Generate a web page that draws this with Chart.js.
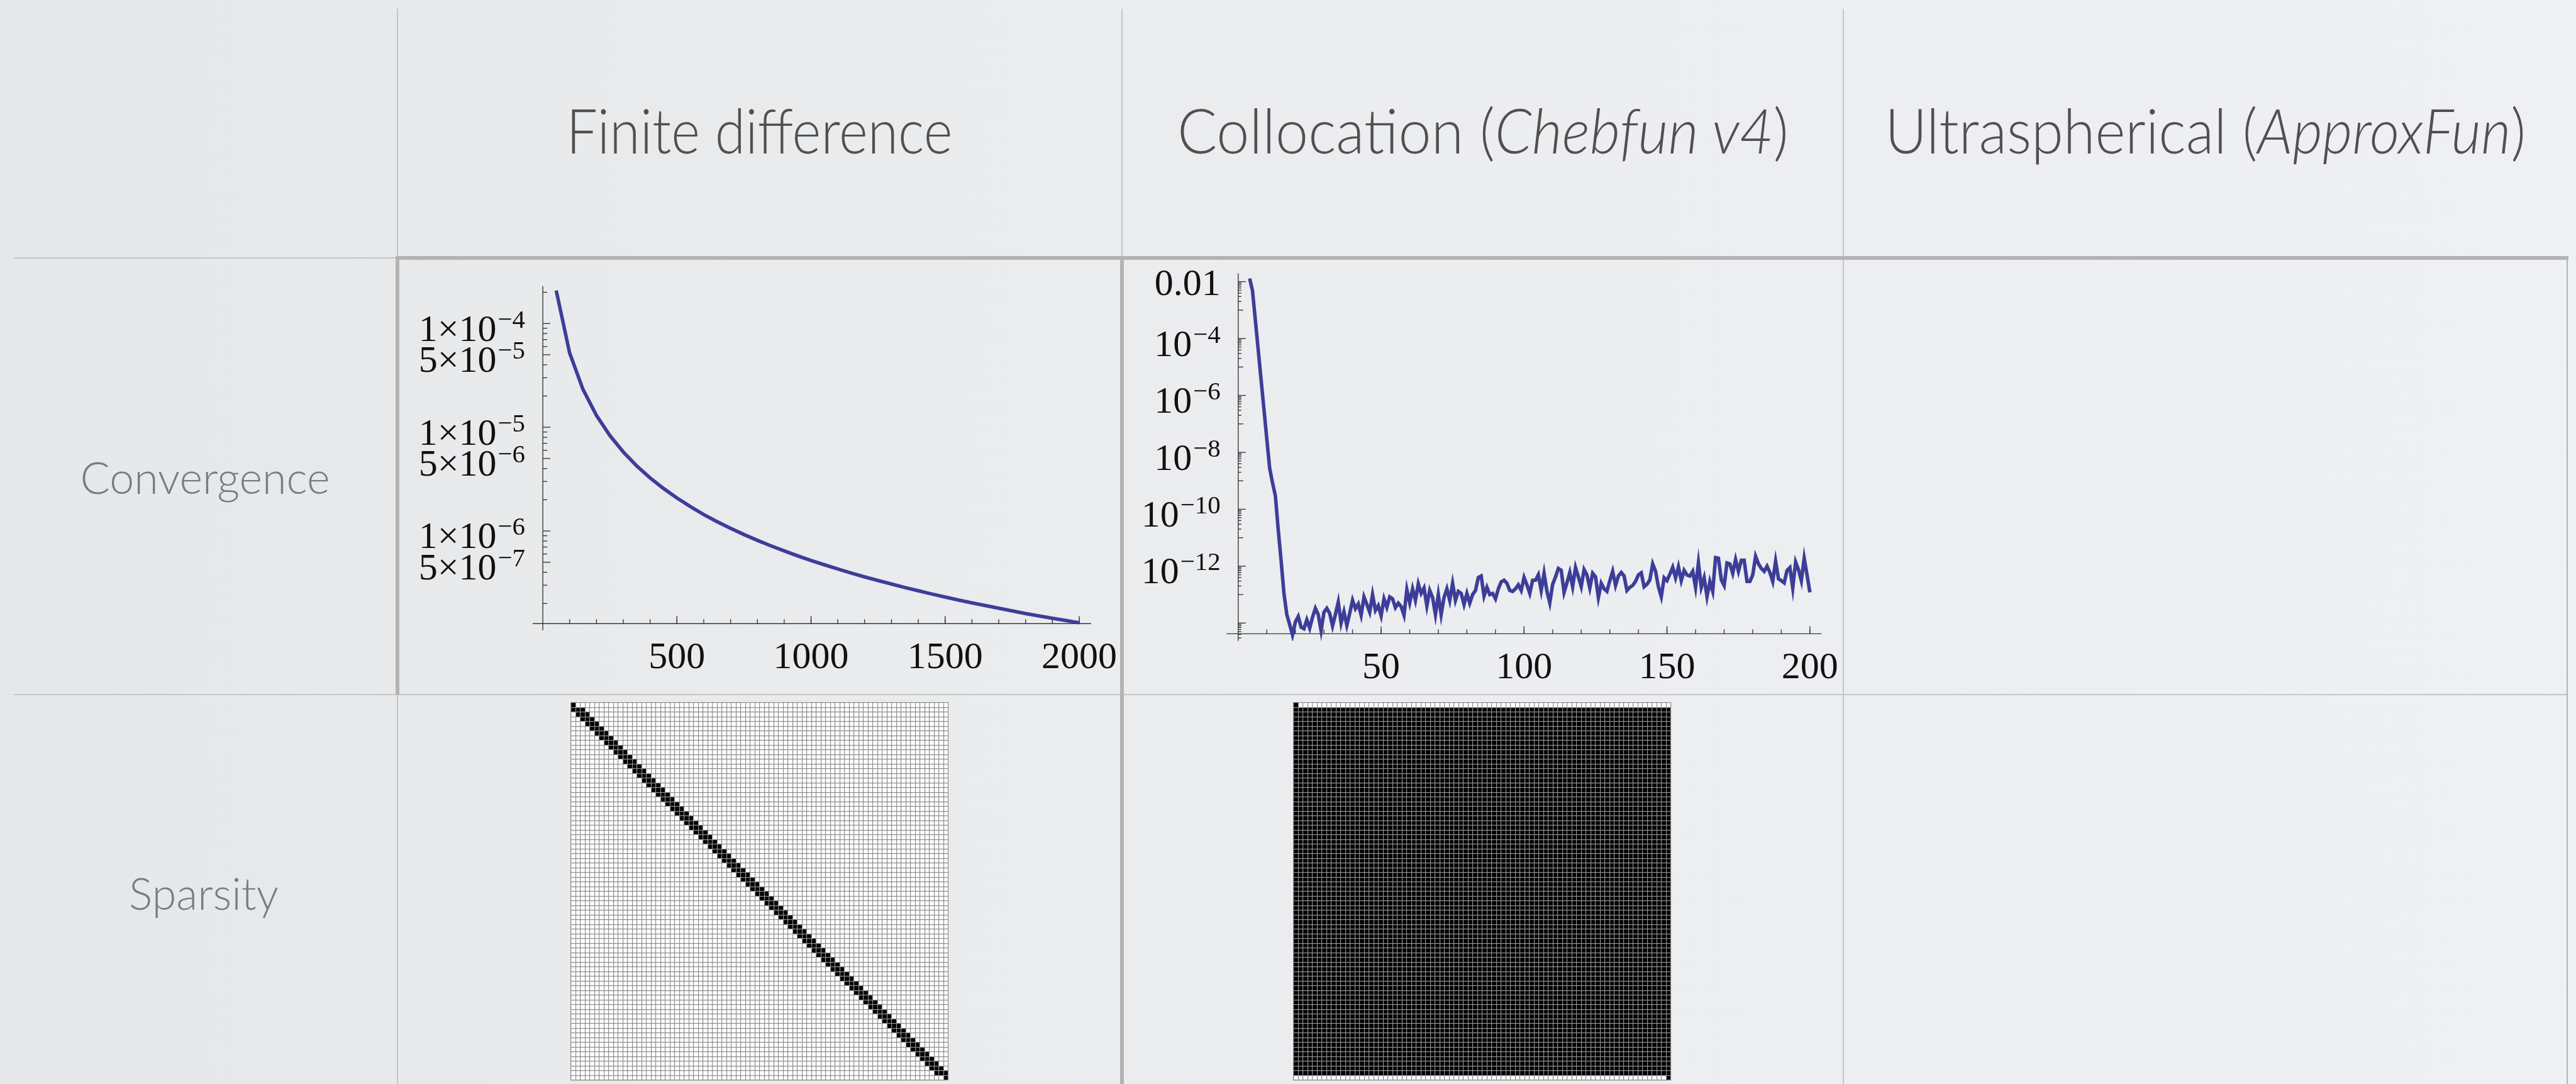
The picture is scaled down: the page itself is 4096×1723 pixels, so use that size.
<!DOCTYPE html>
<html lang="en">
<head>
<meta charset="utf-8">
<title>Discretisations: convergence and sparsity</title>
<script src="https://cdn.jsdelivr.net/npm/chart.js@4.4.1/dist/chart.umd.min.js"></script>
<style>
  html, body { margin: 0; padding: 0; }
  body {
    width: 4096px; height: 1723px; overflow: hidden; position: relative;
    background: linear-gradient(90deg, #e5e7e9 0%, #eaecee 40%, #eef0f3 100%);
  }
  .rule { position: absolute; background: #c3c5c7; }
  .rule.heavy { background: #b3b3b3; }
  .head, .rowlab {
    position: absolute; white-space: nowrap; transform-origin: 50% 50%;
    font-family: Lato, "Open Sans", "Noto Sans", sans-serif; font-weight: 300;
  }
  .head { top: 157px; font-size: 98px; line-height: 98px; color: #505050; }
  .rowlab { font-size: 70px; line-height: 70px; color: #72807f; }
  .panel { position: absolute; display: block; }
</style>
</head>
<body>

<!-- table rules -->
<div class="rule" style="left:631px;top:14px;width:2px;height:396px"></div>
<div class="rule" style="left:1783px;top:14px;width:2px;height:396px"></div>
<div class="rule" style="left:2930px;top:14px;width:2px;height:1709px"></div>
<div class="rule" style="left:22px;top:409px;width:610px;height:2px"></div>
<div class="rule" style="left:22px;top:1103px;width:4060px;height:2px"></div>
<div class="rule" style="left:631px;top:1104px;width:2px;height:619px"></div>
<div class="rule heavy" style="left:4081px;top:407px;width:2px;height:1316px"></div>
<div class="rule heavy" style="left:629px;top:407px;width:3455px;height:6px"></div>
<div class="rule heavy" style="left:629px;top:407px;width:6px;height:697px"></div>
<div class="rule heavy" style="left:1781px;top:407px;width:6px;height:1316px"></div>

<!-- column and row headings -->
<div class="head" data-center="1208" data-width="614">Finite difference</div>
<div class="head" data-center="2357.5" data-width="972">Collocation (<i>Chebfun v4</i>)</div>
<div class="head" data-center="3506.5" data-width="1019">Ultraspherical (<i>ApproxFun</i>)</div>
<div class="rowlab" data-center="326" style="top:723px">Convergence</div>
<div class="rowlab" data-center="324" style="top:1384px">Sparsity</div>

<canvas id="fdConv" class="panel" width="1152" height="694" style="left:632px;top:410px"></canvas>
<canvas id="colConv" class="panel" width="1147" height="694" style="left:1784px;top:410px"></canvas>
<canvas id="fdSparse" class="panel" width="602" height="602" style="left:907px;top:1116px"></canvas>
<canvas id="colSparse" class="panel" width="602" height="602" style="left:2056px;top:1116px"></canvas>

<script>
// ---- finite difference: error against number of grid points ----
const fdN = [50, 100, 150, 200, 250, 300, 350, 400, 450, 500,
             550, 600, 650, 700, 750, 800, 850, 900, 950, 1000,
             1050, 1100, 1150, 1200, 1250, 1300, 1350, 1400, 1450, 1500,
             1550, 1600, 1650, 1700, 1750, 1800, 1850, 1900, 1950, 2000];
const fdError = [2.08e-4, 5.2e-5, 2.31e-5, 1.3e-5, 8.32e-6, 5.78e-6, 4.24e-6, 3.25e-6, 2.57e-6, 2.08e-6,
                 1.72e-6, 1.44e-6, 1.23e-6, 1.06e-6, 9.24e-7, 8.13e-7, 7.2e-7, 6.42e-7, 5.76e-7, 5.2e-7,
                 4.72e-7, 4.3e-7, 3.93e-7, 3.61e-7, 3.33e-7, 3.08e-7, 2.85e-7, 2.65e-7, 2.47e-7, 2.31e-7,
                 2.16e-7, 2.03e-7, 1.91e-7, 1.8e-7, 1.7e-7, 1.6e-7, 1.52e-7, 1.44e-7, 1.37e-7, 1.3e-7];

// ---- collocation: error against discretisation size, n = 4 … 200 ----
const collocFirstN = 4;
const collocError = [
  1.3e-2, 4.8e-3, 4.4e-4, 4.0e-5, 3.6e-6, 3.3e-7, 3.0e-8, 2.8e-9, 8.5e-10, 3.0e-10,
  1.9e-11, 1.6e-12, 1.1e-13, 2.0e-14, 8.9e-15, 3.8e-15, 1.1e-14, 1.7e-14, 7.2e-15, 6.3e-15,
  1.3e-14, 6.6e-15, 1.6e-14, 3.3e-14, 2.0e-14, 5.4e-15, 2.4e-14, 3.3e-14, 2.2e-14, 7.9e-15,
  2.0e-14, 5.5e-14, 1.0e-14, 2.5e-14, 8.3e-15, 2.2e-14, 6.3e-14, 3.2e-14, 4.7e-14, 1.9e-14,
  8.3e-14, 4.5e-14, 2.4e-14, 1.0e-13, 2.8e-14, 4.1e-14, 1.8e-14, 7.1e-14, 3.6e-14, 8.3e-14,
  7.1e-14, 3.5e-14, 5.0e-14, 3.8e-14, 1.9e-14, 1.5e-13, 5.2e-14, 1.6e-13, 6.3e-14, 2.4e-13,
  1.1e-13, 1.7e-13, 4.0e-14, 1.4e-13, 7.9e-14, 2.0e-14, 1.0e-13, 2.0e-14, 7.9e-14, 1.6e-13,
  6.3e-14, 2.5e-13, 6.3e-14, 1.3e-13, 1.1e-13, 4.5e-14, 1.1e-13, 5.0e-14, 1.0e-13, 1.4e-13,
  4.0e-13, 4.5e-13, 8.9e-14, 1.8e-13, 1.0e-13, 1.1e-13, 7.1e-14, 1.6e-13, 2.8e-13, 3.2e-13,
  2.5e-13, 1.4e-13, 1.3e-13, 1.6e-13, 2.2e-13, 1.4e-13, 4.0e-13, 2.2e-13, 1.1e-13, 3.2e-13,
  3.2e-13, 5.0e-13, 1.4e-13, 5.6e-13, 1.3e-13, 5.1e-14, 2.3e-13, 4.2e-13, 8.3e-13, 7.1e-13,
  1.2e-13, 2.6e-13, 6.0e-13, 1.9e-13, 8.9e-13, 4.2e-13, 1.9e-13, 7.6e-13, 4.9e-13, 1.7e-13,
  5.6e-13, 4.2e-13, 7.9e-14, 2.5e-13, 1.6e-13, 1.3e-13, 3.1e-13, 6.6e-13, 2.1e-13, 4.5e-13,
  6.0e-13, 4.5e-13, 1.4e-13, 1.8e-13, 2.1e-13, 2.9e-13, 4.9e-13, 5.8e-13, 1.9e-13, 2.3e-13,
  3.3e-13, 1.2e-12, 6.6e-13, 1.9e-13, 8.5e-14, 3.9e-13, 3.1e-13, 5.2e-13, 9.1e-13, 3.9e-13,
  9.5e-13, 3.1e-13, 7.1e-13, 4.9e-13, 4.5e-13, 6.6e-13, 1.8e-13, 1.3e-12, 1.8e-13, 3.9e-13,
  8.5e-14, 2.9e-13, 1.3e-13, 2.0e-12, 1.9e-12, 3.3e-13, 2.1e-13, 1.3e-12, 1.2e-12, 5.6e-13,
  1.7e-12, 6.6e-13, 1.6e-12, 1.6e-12, 2.9e-13, 2.9e-13, 4.9e-13, 2.2e-12, 1.2e-12, 8.3e-13,
  6.6e-13, 1.0e-12, 6.0e-13, 2.9e-13, 1.5e-12, 3.6e-13, 3.1e-13, 2.6e-13, 7.1e-13, 8.9e-13,
  1.7e-13, 1.4e-12, 7.6e-13, 3.1e-13, 1.9e-12, 4.9e-13, 1.2e-13
];

// ---- tick marks and labels ----
const fdXTicks = [500, 1000, 1500, 2000];
const fdXLabels = ['500', '1000', '1500', '2000'];
const fdYTicks = [1e-4, 5e-5, 1e-5, 5e-6, 1e-6, 5e-7];
const fdYLabels = [['1×10', '−4'], ['5×10', '−5'], ['1×10', '−5'], ['5×10', '−6'], ['1×10', '−6'], ['5×10', '−7']];
const fdYMinorMultiples = [2, 3, 4, 6, 7, 8, 9];

const collocXTicks = [50, 100, 150, 200];
const collocXLabels = ['50', '100', '150', '200'];
const collocYTicks = [1e-2, 1e-4, 1e-6, 1e-8, 1e-10, 1e-12, 1e-14];
const collocYLabels = [['0.01', ''], ['10', '−4'], ['10', '−6'], ['10', '−8'], ['10', '−10'], ['10', '−12'], null];

// ---- sparsity patterns (80 × 80) ----
const sparsityN = 80;
const fdStencilOffsets = [-1, 0, 1];   // interior rows of the second-difference matrix

const CURVE = '#3d3d99';
const AXIS = '#3a3a3a';
const LABEL_FONT = '60px "Liberation Serif", "Times New Roman", serif';
const SUP_FONT = '41px "Liberation Serif", "Times New Roman", serif';

Chart.defaults.animation = false;

function range(start, stop, step) {
  const out = [];
  for (let v = start; v <= stop + 1e-9; v += step) out.push(v);
  return out;
}

// Axes drawn through the data, with inward tick marks and superscripted labels.
function crossingAxes(cfg) {
  return {
    id: 'crossingAxes',
    beforeDatasetsDraw(chart) {
      const { ctx, chartArea: ca } = chart;
      const xs = chart.scales.x, ys = chart.scales.y;
      const ax = xs.getPixelForValue(cfg.yAxisAt);
      const ay = ys.getPixelForValue(cfg.xAxisAt);
      const inY = v => v >= ys.min && v <= ys.max;
      const seg = (x1, y1, x2, y2) => { ctx.beginPath(); ctx.moveTo(x1, y1); ctx.lineTo(x2, y2); ctx.stroke(); };
      ctx.save();
      ctx.strokeStyle = AXIS;
      ctx.lineWidth = 1.4;
      seg(ca.left, ay, ca.right, ay);
      seg(ax, ca.top, ax, ca.bottom);
      cfg.xMinor.forEach(v => { const p = xs.getPixelForValue(v); seg(p, ay, p, ay - 7); });
      cfg.xMajor.forEach(v => { const p = xs.getPixelForValue(v); seg(p, ay, p, ay - 12); });
      cfg.yMinor.filter(inY).forEach(v => { const p = ys.getPixelForValue(v); seg(ax, p, ax + cfg.yMinorLen, p); });
      (cfg.yMedium || []).filter(inY).forEach(v => { const p = ys.getPixelForValue(v); seg(ax, p, ax + 8, p); });
      cfg.yMajor.filter(inY).forEach(v => { const p = ys.getPixelForValue(v); seg(ax, p, ax + 12, p); });

      ctx.fillStyle = '#111';
      ctx.textBaseline = 'alphabetic';
      ctx.font = LABEL_FONT;
      ctx.textAlign = 'center';
      cfg.xMajor.forEach((v, i) => ctx.fillText(cfg.xLabels[i], xs.getPixelForValue(v), ay + 71));

      ctx.textAlign = 'left';
      cfg.yMajor.forEach((v, i) => {
        const lab = cfg.yLabels[i];
        if (!lab) return;
        const [base, sup] = lab;
        const p = ys.getPixelForValue(v);
        ctx.font = SUP_FONT;
        const ws = sup ? ctx.measureText(sup).width + 2 : 0;
        ctx.font = LABEL_FONT;
        const wb = ctx.measureText(base).width;
        const right = ax - 28;
        const baseY = p + (sup ? 27.5 : 21);
        ctx.fillText(base, right - ws - wb, baseY);
        if (sup) {
          ctx.font = SUP_FONT;
          ctx.fillText(sup, right - ws + 2, baseY - 21);
        }
      });
      ctx.restore();
    }
  };
}

function convergenceChart(id, points, scales, padding, axes) {
  return new Chart(document.getElementById(id), {
    type: 'line',
    data: { datasets: [{ data: points, borderColor: CURVE, borderWidth: 5.6, pointRadius: 0, tension: 0, fill: false }] },
    options: {
      responsive: false, devicePixelRatio: 1, events: [],
      layout: { padding },
      plugins: { legend: { display: false }, tooltip: { enabled: false } },
      scales: {
        x: Object.assign({ type: 'linear', display: false }, scales.x),
        y: Object.assign({ type: 'logarithmic', display: false }, scales.y)
      }
    },
    plugins: [crossingAxes(axes)]
  });
}

// finite difference convergence
const fdYMinor = [];
[-4, -5, -6, -7].forEach(e => fdYMinorMultiples.forEach(m => fdYMinor.push(m * Math.pow(10, e))));
convergenceChart('fdConv',
  fdN.map((n, i) => ({ x: n, y: fdError[i] })),
  { x: { min: -38, max: 2044 }, y: { min: 1.104e-7, max: 2.292e-4 } },
  { left: 214.9, right: 49.2, top: 44.8, bottom: 102.2 },
  { yAxisAt: 0, xAxisAt: 1.28e-7, xMajor: fdXTicks, xLabels: fdXLabels, xMinor: range(100, 2000, 100),
    yMajor: fdYTicks, yLabels: fdYLabels, yMinor: fdYMinor, yMinorLen: 7 });

// collocation convergence
const collocYMedium = collocYTicks.map(v => v / 10);
const collocYMinor = [];
collocYTicks.forEach(v => [2, 3, 4, 5, 6, 7, 8, 9].forEach(m => collocYMinor.push(m * v / 10)));
convergenceChart('colConv',
  collocError.map((e, i) => ({ x: collocFirstN + i, y: e })),
  { x: { min: -4.1, max: 204.1 }, y: { min: 2.36e-15, max: 1.968e-2 } },
  { left: 166.2, right: 34.5, top: 24.4, bottom: 85.3 },
  { yAxisAt: 0, xAxisAt: 4.2e-15, xMajor: collocXTicks, xLabels: collocXLabels, xMinor: range(10, 200, 10),
    yMajor: collocYTicks, yLabels: collocYLabels, yMedium: collocYMedium, yMinor: collocYMinor, yMinorLen: 5 });

// ---- spy plots ----
const whiteArea = {
  id: 'whiteArea',
  beforeDraw(chart) {
    const { ctx, chartArea: a } = chart;
    ctx.save(); ctx.fillStyle = '#ffffff'; ctx.fillRect(a.left, a.top, a.width, a.height); ctx.restore();
  }
};

function cellSide(chart) {
  const xs = chart.scales.x;
  return Math.abs(xs.getPixelForValue(1) - xs.getPixelForValue(0));
}

function spyChart(id, cells) {
  const axis = {
    type: 'linear', min: 0, max: sparsityN,
    ticks: { display: false, stepSize: 1, autoSkip: false },
    grid: { color: '#8e8e8e', lineWidth: 1.2, drawTicks: false, tickLength: 0, z: 1 },
    border: { color: '#8e8e8e', width: 1.2, z: 1 }
  };
  return new Chart(document.getElementById(id), {
    type: 'scatter',
    data: { datasets: [{
      data: cells, pointStyle: 'rect', backgroundColor: '#000', borderWidth: 0,
      pointRadius: c => cellSide(c.chart) * Math.SQRT1_2
    }] },
    options: {
      responsive: false, devicePixelRatio: 1, events: [],
      layout: { padding: 1 },
      plugins: { legend: { display: false }, tooltip: { enabled: false } },
      scales: { x: axis, y: Object.assign({}, axis, { reverse: true }) }
    },
    plugins: [whiteArea]
  });
}

function boundaryCells() {
  return [{ x: 0.5, y: 0.5 }, { x: sparsityN - 0.5, y: sparsityN - 0.5 }];
}
const fdCells = boundaryCells();
for (let r = 1; r < sparsityN - 1; r++) fdStencilOffsets.forEach(o => fdCells.push({ x: r + o + 0.5, y: r + 0.5 }));
const collocCells = boundaryCells();
for (let r = 1; r < sparsityN - 1; r++) for (let c = 0; c < sparsityN; c++) collocCells.push({ x: c + 0.5, y: r + 0.5 });

spyChart('fdSparse', fdCells);
spyChart('colSparse', collocCells);

// ---- centre the headings and fit them to their measured widths ----
document.querySelectorAll('[data-center]').forEach(el => {
  const w = el.getBoundingClientRect().width;
  const target = el.dataset.width ? +el.dataset.width : w;
  el.style.left = (+el.dataset.center - w / 2) + 'px';
  el.style.transform = 'scaleX(' + (target / w) + ')';
});
</script>
</body>
</html>
